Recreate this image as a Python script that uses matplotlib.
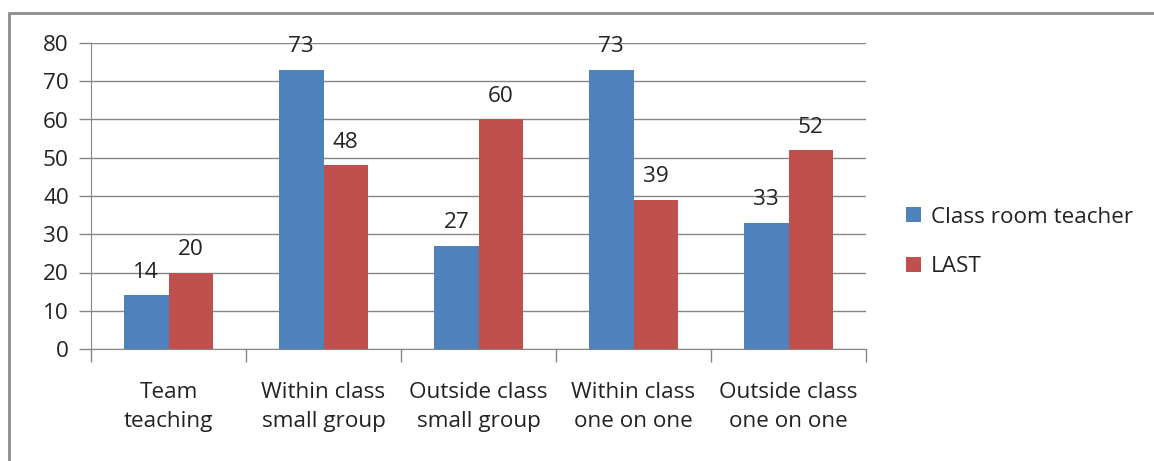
import matplotlib.pyplot as plt
import numpy as np
from matplotlib.patches import Rectangle

categories = ['Team\nteaching', 'Within class\nsmall group', 'Outside class\nsmall group',
              'Within class\none on one', 'Outside class\none on one']
teacher = [14, 73, 27, 73, 33]
last = [20, 48, 60, 39, 52]
series_names = ['Class room teacher', 'LAST']

blue = '#4F81BD'
red = '#C0504D'
grey = '#868686'
fs = 16.2

plt.rcParams['font.family'] = ['Open Sans', 'DejaVu Sans']

fig = plt.figure(figsize=(11.54, 4.61), dpi=100)
ax = fig.add_axes([91 / 1154, 1 - 349 / 461, 775 / 1154, 306 / 461])

# outer chart frame
fig.patches.append(Rectangle((9 / 1154, -0.1), 1.2, 1 - 13 / 461 + 0.1, transform=fig.transFigure,
                             fill=False, edgecolor='#8c8c8c', linewidth=2))

x = np.arange(len(categories))
w = 1 / 3.5
b1 = ax.bar(x - w / 2, teacher, w, color=blue, label=series_names[0], zorder=3)
b2 = ax.bar(x + w / 2, last, w, color=red, label=series_names[1], zorder=3)
for bars in (b1, b2):
    ax.bar_label(bars, padding=9, fontsize=fs, color='#222222')

ax.set_xlim(-0.5, len(categories) - 0.5)
ax.set_ylim(0, 80)
ax.set_yticks(range(0, 81, 10))
ax.yaxis.grid(True, color=grey, linewidth=1, zorder=0)
ax.set_axisbelow(True)

# category labels between boundary ticks
ax.set_xticks(np.arange(-0.5, len(categories), 1))
ax.set_xticklabels([])
ax.set_xticks(x, minor=True)
ax.set_xticklabels(categories, minor=True, fontsize=fs, color='#222222', linespacing=1.5)
ax.tick_params(axis='x', which='minor', length=0, pad=24)
ax.tick_params(axis='x', which='major', length=9, color=grey, width=1)
ax.tick_params(axis='y', length=9, color=grey, width=1, labelsize=fs, labelcolor='#222222', pad=7)

for s in ['top', 'right']:
    ax.spines[s].set_visible(False)
for s in ['left', 'bottom']:
    ax.spines[s].set_color(grey)

leg = ax.legend(loc='center left', bbox_to_anchor=(1.052, 0.35), frameon=False, fontsize=fs,
                handlelength=0.65, handleheight=0.65, handletextpad=0.45, labelspacing=1.25,
                borderpad=0, borderaxespad=0)
for t in leg.get_texts():
    t.set_color('#222222')

fig.savefig('out.png', dpi=100)
